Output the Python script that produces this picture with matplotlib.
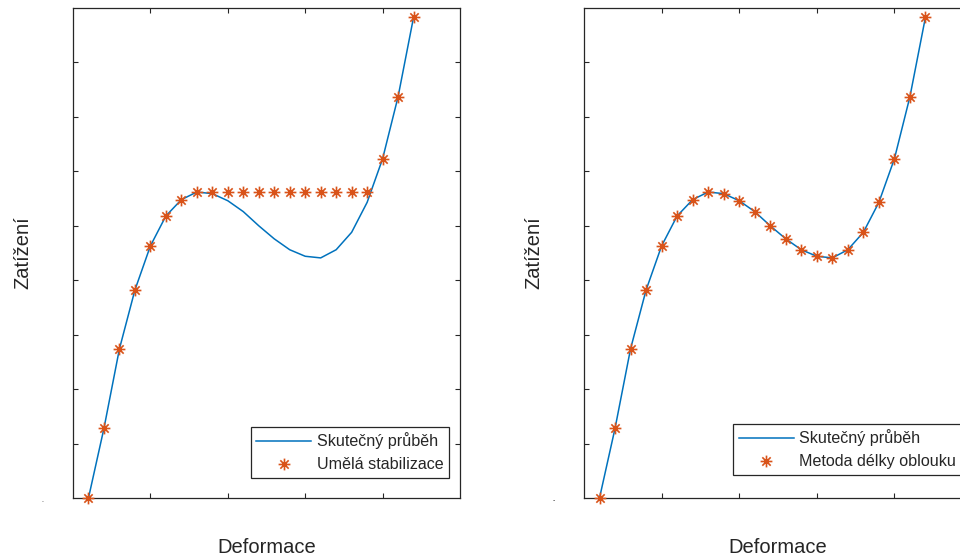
import matplotlib
matplotlib.use("Agg")
import matplotlib.pyplot as plt
from matplotlib.path import Path

# deformace (x) a zatizeni (y)
deformace = [0.2, 0.4, 0.6, 0.8, 1.0, 1.2, 1.4, 1.6, 1.8, 2.0, 2.2,
             2.4, 2.6, 2.8, 3.0, 3.2, 3.4, 3.6, 3.8, 4.0, 4.2, 4.4]
skutecny = [0.0, 1.28, 2.74, 3.82, 4.63, 5.18, 5.48, 5.62, 5.59, 5.46, 5.26,
            5.0, 4.76, 4.56, 4.44, 4.41, 4.56, 4.88, 5.43, 6.23, 7.37, 8.83]
umela = [0.0, 1.28, 2.74, 3.82, 4.63, 5.18, 5.48, 5.62, 5.62, 5.62, 5.62,
         5.62, 5.62, 5.62, 5.62, 5.62, 5.62, 5.62, 5.62, 6.23, 7.37, 8.83]
oblouk = list(skutecny)

legend_line = "Skutečný průběh"
panels = [
    ("Umělá stabilizace", umela),
    ("Metoda délky oblouku", oblouk),
]

BLUE = "#0072BD"
ORANGE = "#D95319"
GRAY = "#262626"

plt.rcParams["font.family"] = ["Liberation Sans", "DejaVu Sans"]

# MATLAB-like asterisk marker (+ and x together)
d = 0.7071
asterisk = Path(
    [(-1, 0), (1, 0), (0, -1), (0, 1), (-d, -d), (d, d), (-d, d), (d, -d)],
    [Path.MOVETO, Path.LINETO] * 4,
)

fig = plt.figure(figsize=(9.6, 5.56), dpi=100)
positions = [[73 / 960, 58 / 556, 387 / 960, 490 / 556],
             [584 / 960, 58 / 556, 388 / 960, 490 / 556]]
legend_pos = [(0.459, 0.041), (0.385, 0.047)]
dot_text = [".", "-"]

for i, (label, values) in enumerate(panels):
    ax = fig.add_axes(positions[i])
    ax.plot(deformace, skutecny, color=BLUE, lw=1.1, label=legend_line)
    ax.plot(deformace, values, linestyle="none", marker=asterisk,
            markersize=8.5, markeredgewidth=1.2, color=ORANGE,
            markeredgecolor=ORANGE, markerfacecolor="none", label=label,
            clip_on=False, zorder=3)

    ax.set_xlim(0, 5)
    ax.set_ylim(0, 9)
    ax.set_xticks([1, 2, 3, 4])
    ax.set_yticks([1, 2, 3, 4, 5, 6, 7, 8])
    ax.tick_params(direction="in", length=3.5, width=0.8, color=GRAY,
                   top=True, right=True, labelbottom=False, labelleft=False)
    for s in ax.spines.values():
        s.set_color(GRAY)
        s.set_linewidth(0.9)

    ax.set_xlabel("Deformace", fontsize=14.5, color=GRAY, labelpad=29)
    ax.set_ylabel("Zatížení", fontsize=14.5, color=GRAY, labelpad=29)

    # drobny zbytek popisku osy vlevo dole
    ax.text(-0.078, -0.005, dot_text[i], transform=ax.transAxes,
            fontsize=5, color=GRAY, ha="center", va="center")

    leg = ax.legend(loc="lower left", bbox_to_anchor=legend_pos[i],
                    borderaxespad=0, fontsize=11.6, handlelength=3.4,
                    handletextpad=0.35, labelspacing=0.5, borderpad=0.35,
                    fancybox=False, framealpha=1, edgecolor=GRAY)
    leg.get_frame().set_linewidth(0.9)
    for t in leg.get_texts():
        t.set_color(GRAY)

fig.savefig("out.png", dpi=100)
